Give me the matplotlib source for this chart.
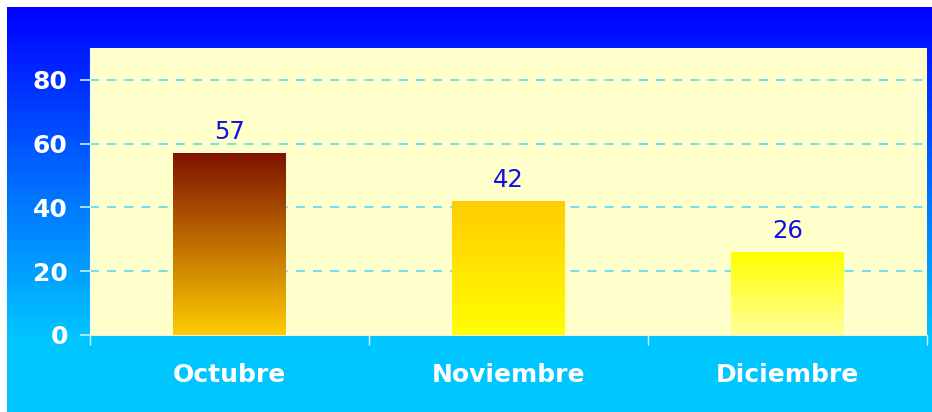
import matplotlib.pyplot as plt
import numpy as np
from matplotlib.colors import LinearSegmentedColormap

meses = ["Octubre", "Noviembre", "Diciembre"]
valores = [57, 42, 26]
# colores de degradado por barra (arriba, abajo)
degradados = [("#7F1200", "#FFCC00"), ("#FFCC00", "#FFFF00"), ("#FFFF00", "#FFFF99")]

W, H = 932, 412
fig = plt.figure(figsize=(W / 100, H / 100), dpi=100)
fig.patch.set_facecolor("white")

# Fondo con degradado azul -> celeste
fondo = fig.add_axes([7 / W, 0, (W - 7) / W, (H - 7) / H])
fondo.axis("off")
filas = np.linspace(0, 1, 405)
filas = np.clip(filas / 0.82, 0, 1)
fondo_cmap = LinearSegmentedColormap.from_list("fondo", ["#0000FF", "#0066FF", "#00C6FF"])
fondo.imshow(filas[:, None], aspect="auto", cmap=fondo_cmap, extent=[0, 1, 0, 1], origin="upper")
fondo.set_xlim(0, 1)
fondo.set_ylim(0, 1)

ax = fig.add_axes([90 / W, (H - 335) / H, (927 - 90) / W, (335 - 48) / H])
ax.set_facecolor("#FFFFCC")

x = np.arange(len(meses))
barras = ax.bar(x, valores, width=0.405, color="none", zorder=3)

for b, (c1, c2) in zip(barras, degradados):
    cmap = LinearSegmentedColormap.from_list("b", [c2, c1])
    g = np.linspace(0, 1, 256)[:, None]
    ax.imshow(g, aspect="auto", cmap=cmap, origin="lower", zorder=3,
              extent=[b.get_x(), b.get_x() + b.get_width(), 0, b.get_height()])
    ax.annotate(str(int(b.get_height())), (b.get_x() + b.get_width() / 2, b.get_height()),
                xytext=(0, 6.5), textcoords="offset points", ha="center", va="bottom",
                fontsize=17.5, color="#1010E6", zorder=4)

ax.set_xlim(-0.5, 2.5)
ax.set_ylim(0, 90)
ax.set_yticks([0, 20, 40, 60, 80])
ax.yaxis.grid(True, color="#66DDEE", linestyle=(0, (5, 4.5)), linewidth=1.3, zorder=1)
ax.yaxis.get_gridlines()[0].set_visible(False)
ax.set_axisbelow(True)

ax.set_xticks(x)
ax.set_xticklabels(meses)
ax.set_xticks([-0.5, 0.5, 1.5, 2.5], minor=True)
ax.tick_params(axis="x", which="major", length=0, pad=20, labelsize=18, labelcolor="white")
ax.tick_params(axis="x", which="minor", length=7, color="#DDF4FF", width=1)
ax.tick_params(axis="y", length=7, color="#CCEEFF", width=1.2, pad=9, labelsize=18, labelcolor="white")
for lbl in ax.get_xticklabels() + ax.get_yticklabels():
    lbl.set_fontweight("bold")

for s in ["top", "right"]:
    ax.spines[s].set_visible(False)
ax.spines["left"].set_color("#EEF8FF")
ax.spines["bottom"].set_color("#F0F0E0")

fig.savefig("out.png", dpi=100)
